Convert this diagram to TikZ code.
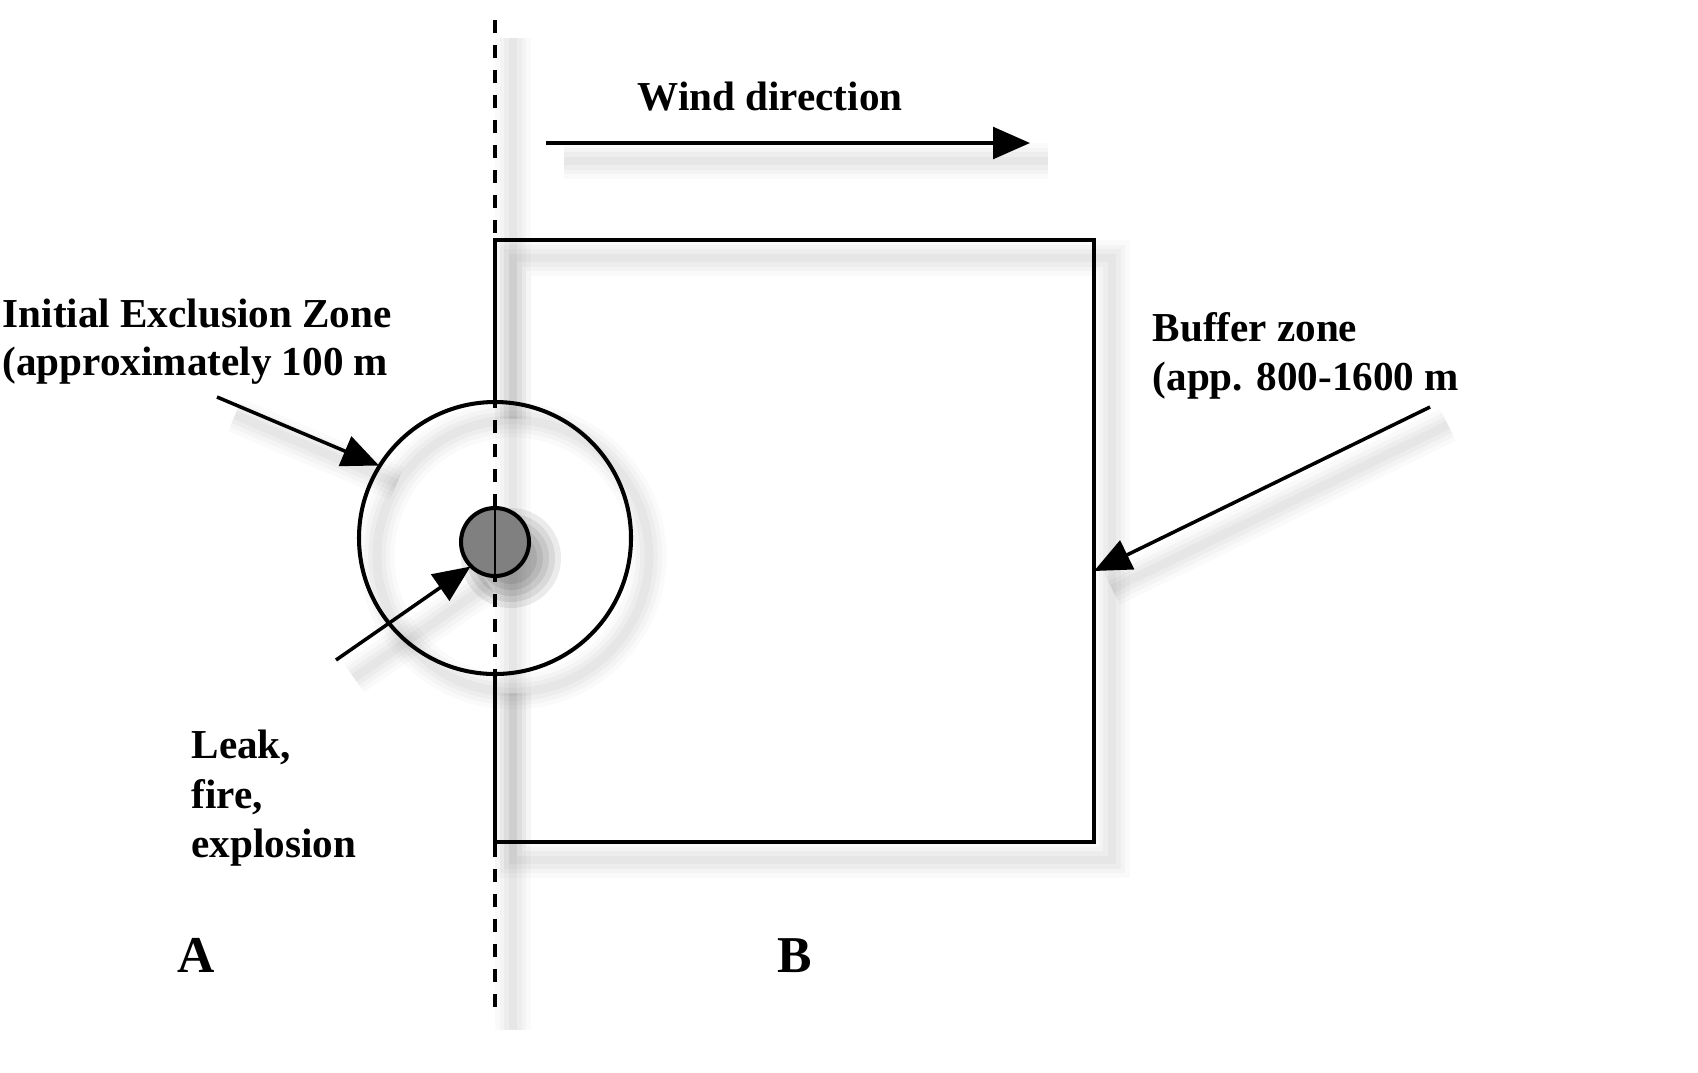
\documentclass[tikz,border=0pt]{standalone}
\usepackage{fontspec}
\setmainfont{Liberation Serif}
\usetikzlibrary{arrows.meta}
\begin{document}
\begin{tikzpicture}[x=0.01cm,y=-0.01cm,
  lbl/.style={inner sep=0pt, anchor=base west, font=\fontsize{11.7}{14}\selectfont\bfseries},
  biglbl/.style={inner sep=0pt, anchor=base west, font=\fontsize{14.7}{17}\selectfont\bfseries},
  shd/.style={
    preaction={draw=black, opacity=0.018, line width=10pt, transform canvas={shift={(18,18)}}},
    preaction={draw=black, opacity=0.022, line width=7.5pt, transform canvas={shift={(18,18)}}},
    preaction={draw=black, opacity=0.026, line width=5pt, transform canvas={shift={(18,18)}}},
    preaction={draw=black, opacity=0.03, line width=2.5pt, transform canvas={shift={(18,18)}}}},
  blob/.style={fill=black, opacity=0.08, transform canvas={shift={(16,16)}}},
  edge/.style={line width=1.15pt, black},
  ptr/.style={line width=1pt, -{Triangle[length=10.5pt,width=9pt]}},
  dline/.style={line width=1.1pt, dash pattern=on 3.7pt off 3.4pt}
]
\useasboundingbox (0,0) rectangle (1698,1072);

% named points
\coordinate (rtl) at (495,240);
\coordinate (rtr) at (1094,240);
\coordinate (rbr) at (1094,842);
\coordinate (rbl) at (495,842);
\coordinate (dtop) at (495,20);
\coordinate (dbot) at (495,1012);
\coordinate (windstart) at (546,143);
\coordinate (windend) at (1030,143);
\coordinate (bufstart) at (1430,407);
\coordinate (buftip) at (1094,571);
\coordinate (iezstart) at (217,397);
\coordinate (leakstart) at (336,660);

% circles
\node[circle, minimum size=2.72cm, inner sep=0pt] (big) at (495,538) {};
\node[circle, minimum size=0.68cm, inner sep=0pt] (small) at (495,542) {};

% shadows
\path[shd] (dtop) -- (dbot);
\path[shd] (big.north) -- (rtl) -- (rtr) -- (rbr) -- (rbl) -- (big.south);
\path[shd] (big.center) circle[radius=136];
\path[shd] (windstart) -- (windend);
\path[shd] (bufstart) -- (buftip);
\path[shd] (iezstart) -- (big.148);
\path[shd] (leakstart) -- (small.225);
\foreach \r in {50,44,38,32,26} {
  \path[blob] (small.center) circle[radius=\r];
}

% rectangle (buffer zone), interrupted inside the exclusion circle
\draw[edge] (big.north) -- (rtl) -- (rtr) -- (rbr) -- (rbl) -- (big.south);
% exclusion circle
\draw[edge] (big.center) circle[radius=136];
% dashed line
\draw[dline] (dtop) -- (dbot);
% source
\draw[edge, fill=black!50] (small.center) circle[radius=34];
\draw[line width=0.8pt] (small.north) -- (small.south);

% arrows
\draw[ptr] (windstart) -- (windend);
\draw[ptr] (bufstart) -- (buftip);
\draw[ptr] (iezstart) -- (big.148);
\draw[ptr] (leakstart) -- (small.225);

% texts
\node[lbl, anchor=base] (wind) at (770,110) {Wind direction};
\node[lbl] (iez1) at (2,327) {Initial Exclusion Zone};
\node[lbl] (iez2) at (2,375) {(approximately 100 m};
\node[lbl] (buf1) at (1152,341) {Buffer zone};
\node[lbl] (buf2) at (1152,390) {(app. 800-1600 m};
\node[lbl] (leak1) at (191,758) {Leak,};
\node[lbl] (leak2) at (191,808) {fire,};
\node[lbl] (leak3) at (191,857) {explosion};
\node[biglbl] (la) at (177,972) {A};
\node[biglbl] (lb) at (777,972) {B};
\end{tikzpicture}
\end{document}
